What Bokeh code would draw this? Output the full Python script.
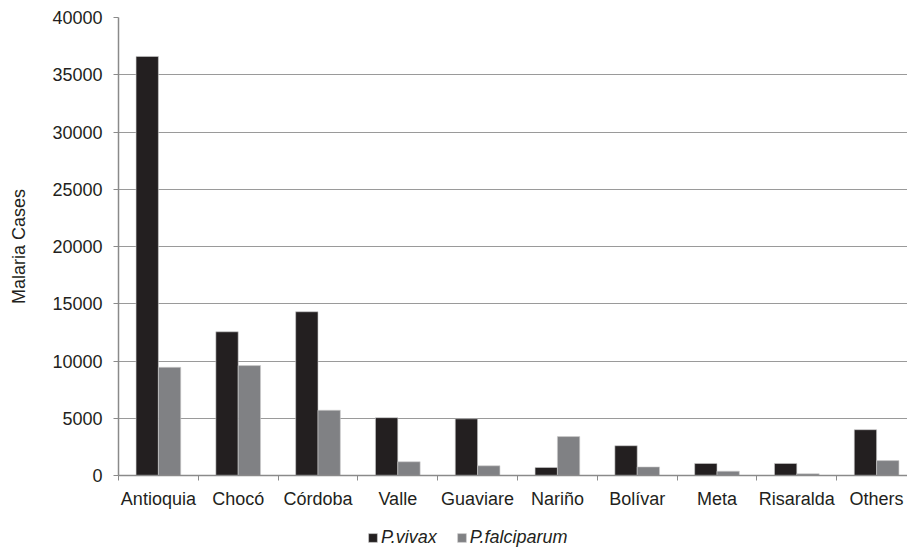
from bokeh.plotting import figure
from bokeh.layouts import column
from bokeh.models import ColumnDataSource, FixedTicker, Legend, LegendItem, Range1d
from bokeh.embed import file_html
from bokeh.resources import INLINE

departments = ["Antioquia", "Chocó", "Córdoba", "Valle", "Guaviare", "Nariño",
               "Bolívar", "Meta", "Risaralda", "Others"]
vivax = [36600, 12550, 14300, 5050, 4950, 700, 2600, 1050, 1050, 4000]
falciparum = [9450, 9600, 5700, 1200, 850, 3400, 750, 380, 150, 1300]
series_names = ["P.vivax", "P.falciparum"]
y_ticks = [0, 5000, 10000, 15000, 20000, 25000, 30000, 35000, 40000]

FONT = "Liberation Sans"
FS = "18px"
TXT = "#231f20"
C_VIV = "#231f20"
C_FAL = "#808184"
n = len(departments)
centers = [i + 0.5 for i in range(n)]
bw = 0.28

src = ColumnDataSource(dict(
    xv=[c - bw / 2 for c in centers],
    xf=[c + bw / 2 for c in centers],
    vivax=vivax, falciparum=falciparum,
))

# the reference crops the last category slightly at the right edge
p = figure(width=907, height=527, output_backend="svg", toolbar_location=None,
           x_range=Range1d(0, n - 0.113), y_range=Range1d(0, 40000),
           min_border_left=118, min_border_right=0, min_border_top=17,
           min_border_bottom=52)
p.outline_line_color = None
p.background_fill_color = "white"

p.vbar(x="xv", top="vivax", width=bw, source=src, fill_color=C_VIV,
       line_color="#cfcfcf", line_width=0.6)
p.vbar(x="xf", top="falciparum", width=bw, source=src, fill_color=C_FAL,
       line_color="#cfcfcf", line_width=0.6)

# x axis: labels at centers, ticks at boundaries
p.xaxis.ticker = FixedTicker(ticks=centers, minor_ticks=list(range(n + 1)))
p.xaxis.major_label_overrides = {c: d for c, d in zip(centers, departments)}
p.xaxis.major_tick_line_color = None
p.xaxis.minor_tick_line_color = "#8a8a8a"
p.xaxis.minor_tick_out = 5
p.xaxis.minor_tick_in = 0
p.xaxis.axis_line_color = "#8a8a8a"
p.xaxis.axis_line_width = 1.5
p.xaxis.major_label_text_font = FONT
p.xaxis.major_label_text_font_size = FS
p.xaxis.major_label_text_color = TXT
p.xaxis.major_label_standoff = 7

p.yaxis.ticker = FixedTicker(ticks=y_ticks)
p.yaxis.minor_tick_line_color = None
p.yaxis.major_tick_line_color = "#8a8a8a"
p.yaxis.major_tick_out = 5
p.yaxis.major_tick_in = 0
p.yaxis.axis_line_color = "#8a8a8a"
p.yaxis.axis_line_width = 1.5
p.yaxis.major_label_text_font = FONT
p.yaxis.major_label_text_font_size = FS
p.yaxis.major_label_text_color = TXT
p.yaxis.major_label_standoff = 11
p.yaxis.axis_label = "Malaria Cases"
p.yaxis.axis_label_text_font = FONT
p.yaxis.axis_label_text_font_size = FS
p.yaxis.axis_label_text_font_style = "normal"
p.yaxis.axis_label_text_color = TXT
p.yaxis.axis_label_standoff = 20

p.xgrid.grid_line_color = None
p.ygrid.grid_line_color = "#9a9a9a"
p.ygrid.ticker = FixedTicker(ticks=y_ticks)

# legend strip beneath the chart (its frame is aligned with the chart's frame)
lg = figure(width=907, height=24, output_backend="svg", toolbar_location=None,
            x_axis_location=None, y_axis_location=None,
            x_range=Range1d(0, 1), y_range=Range1d(0, 1),
            min_border_left=0, min_border_right=0, min_border_top=0,
            min_border_bottom=0)
lg.outline_line_color = None
lg.xgrid.grid_line_color = None
lg.ygrid.grid_line_color = None
# key renderers lie below the strip's visible range; only their legend swatches show
kv = lg.vbar(x=[0.5], top=[-1], bottom=[-2], width=0.01, fill_color=C_VIV,
             line_color="#cfcfcf", line_width=0.6)
kf = lg.vbar(x=[0.5], top=[-1], bottom=[-2], width=0.01, fill_color=C_FAL,
             line_color="#cfcfcf", line_width=0.6)

legend = Legend(items=[LegendItem(label=series_names[0], renderers=[kv]),
                       LegendItem(label=series_names[1], renderers=[kf])],
                orientation="horizontal", location=(249, 3),
                label_text_font=FONT, label_text_font_style="italic",
                label_text_font_size=FS, label_text_color=TXT,
                label_height=18, glyph_width=11, glyph_height=11,
                spacing=19, label_standoff=3,
                border_line_color=None, background_fill_alpha=0,
                margin=0, padding=0)
lg.add_layout(legend, "center")

layout = column(p, lg, spacing=0)
open("out.html", "w").write(file_html(layout, INLINE))
